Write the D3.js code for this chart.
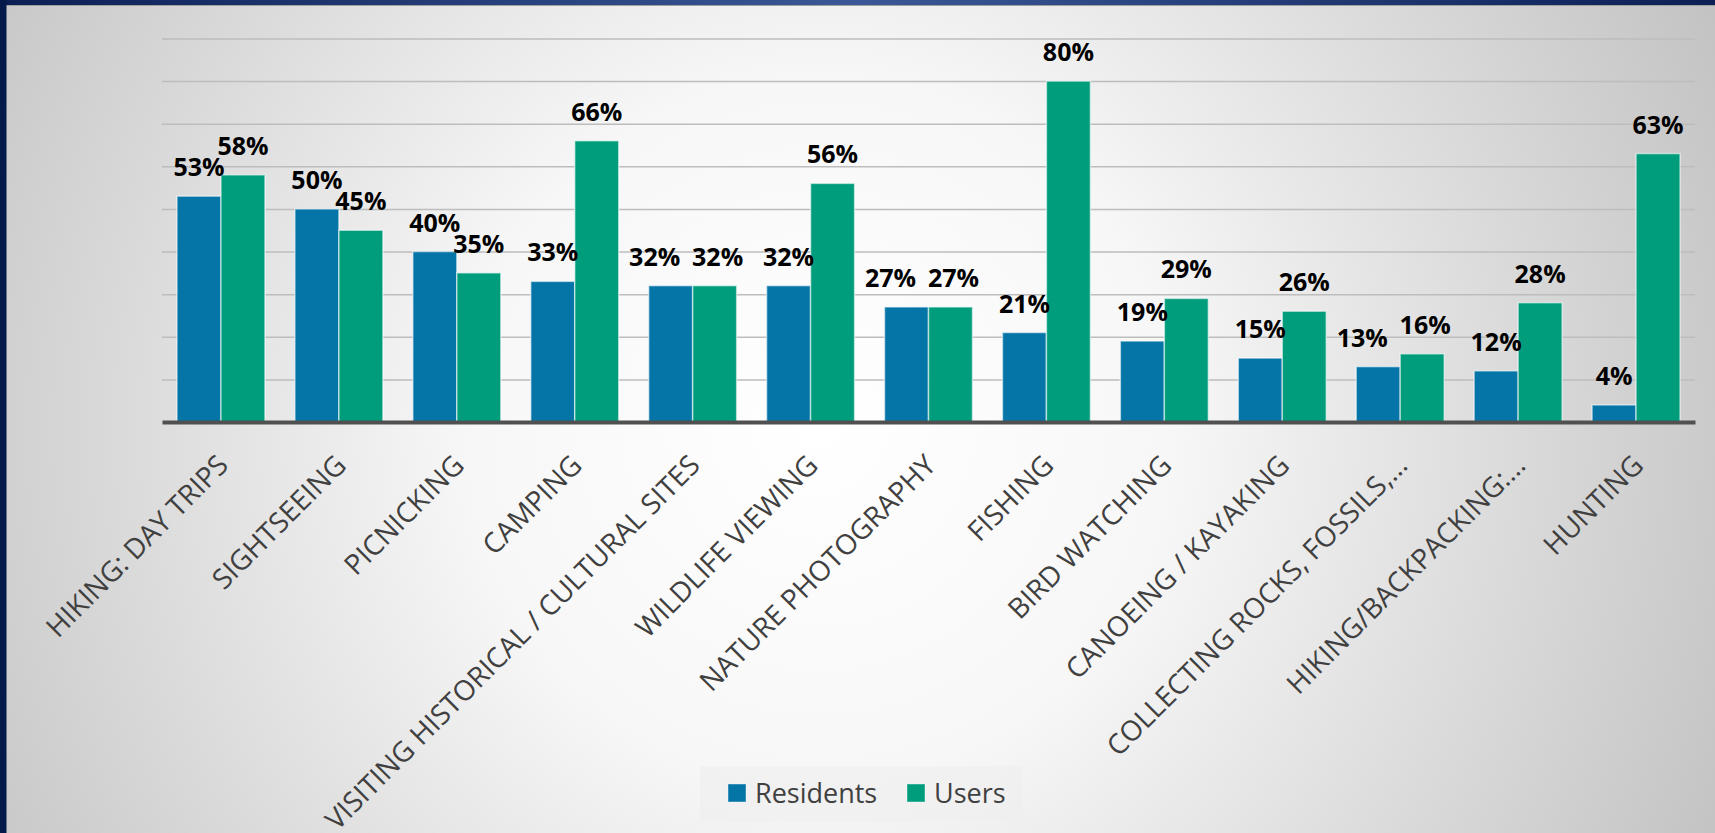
<!DOCTYPE html>
<html>
<head>
<meta charset="utf-8">
<script src="https://cdn.jsdelivr.net/npm/d3@7"></script>
<style>
  body { margin: 0; overflow: hidden; }
  text { font-family: "Open Sans", sans-serif; }
</style>
</head>
<body>
<div id="chart"></div>
<script>
// chart data
var categories = ["HIKING: DAY TRIPS", "SIGHTSEEING", "PICNICKING", "CAMPING",
  "VISITING HISTORICAL / CULTURAL SITES", "WILDLIFE VIEWING", "NATURE PHOTOGRAPHY",
  "FISHING", "BIRD WATCHING", "CANOEING / KAYAKING", "COLLECTING ROCKS, FOSSILS,…",
  "HIKING/BACKPACKING:…", "HUNTING"];
var residents = [53, 50, 40, 33, 32, 32, 27, 21, 19, 15, 13, 12, 4];
var users = [58, 45, 35, 66, 32, 56, 27, 80, 29, 26, 16, 28, 63];
var seriesNames = ["Residents", "Users"];
var colors = ["#0575a8", "#009d7c"];
var yTicks = [10, 20, 30, 40, 50, 60, 70, 80, 90];

var W = 1715, H = 833;
var margin = {top: 38.5, left: 162, right: 20, bottom: 411};
var width = W - margin.left - margin.right,
    height = H - margin.top - margin.bottom;

var svg = d3.select("#chart")
  .append("svg")
    .attr("width", W)
    .attr("height", H);

// background gradient
var defs = svg.append("defs");
var bg = defs.append("radialGradient")
    .attr("id", "bg")
    .attr("gradientUnits", "userSpaceOnUse")
    .attr("cx", 820).attr("cy", 430).attr("r", 1000);
bg.append("stop").attr("offset", 0).attr("stop-color", "#ffffff");
bg.append("stop").attr("offset", 0.35).attr("stop-color", "#f7f7f7");
bg.append("stop").attr("offset", 0.7).attr("stop-color", "#dadada");
bg.append("stop").attr("offset", 1).attr("stop-color", "#c2c2c2");

var topBar = defs.append("linearGradient").attr("id", "topbar");
topBar.append("stop").attr("offset", 0).attr("stop-color", "#0c1f55");
topBar.append("stop").attr("offset", 0.5).attr("stop-color", "#3a5897");
topBar.append("stop").attr("offset", 1).attr("stop-color", "#0c1f55");

svg.append("rect").attr("width", W).attr("height", H).attr("fill", "url(#bg)");
svg.append("rect").attr("width", W).attr("height", 5).attr("fill", "url(#topbar)");
svg.append("rect").attr("y", 5).attr("width", W).attr("height", 1).attr("fill", "#a0a0a0");
svg.append("rect").attr("width", 6.5).attr("height", H).attr("fill", "#031a4b");

var g = svg.append("g")
    .attr("transform", "translate(" + margin.left + "," + margin.top + ")");

// scales
var x0 = d3.scaleBand()
    .domain(categories)
    .range([0, width])
    .paddingInner(0.254)
    .paddingOuter(0.127);
var x1 = d3.scaleBand()
    .domain(seriesNames)
    .range([0, x0.bandwidth()]);
var y = d3.scaleLinear()
    .domain([0, 90])
    .range([height, 0]);

// gridlines
g.append("g")
    .call(d3.axisLeft(y).tickValues(yTicks).tickSize(-width).tickFormat(""))
    .call(function(a) {
      a.select(".domain").remove();
      a.selectAll("line").attr("stroke", "#bdbdbd").attr("stroke-width", 1.5);
    });

// bars
var rows = categories.map(function(c, i) {
  return {cat: c, vals: [residents[i], users[i]]};
});
var groups = g.selectAll(".grp")
  .data(rows)
  .enter()
  .append("g")
    .attr("transform", function(d) { return "translate(" + x0(d.cat) + ",0)"; });

var bars = groups.selectAll("rect")
  .data(function(d) {
    return d.vals.map(function(v, j) {
      return {s: seriesNames[j], v: v, j: j, other: d.vals[1 - j]};
    });
  })
  .enter();

bars.append("rect")
    .attr("x", function(d) { return x1(d.s); })
    .attr("y", function(d) { return y(d.v); })
    .attr("width", x1.bandwidth())
    .attr("height", function(d) { return height - y(d.v); })
    .attr("fill", function(d) { return colors[d.j]; })
    .attr("stroke", "rgba(255,255,255,0.55)")
    .attr("stroke-width", 1.5);

// labels: nudge apart when both labels sit at the same height
bars.append("text")
    .attr("x", function(d) {
      var cx = x1(d.s) + x1.bandwidth() / 2;
      if (Math.abs(y(d.v) - y(d.other)) < 15) cx += d.j === 0 ? -16 : 3;
      return cx;
    })
    .attr("y", function(d) { return y(d.v) - 20; })
    .attr("text-anchor", "middle")
    .style("font-size", "25px")
    .style("font-weight", "bold")
    .attr("fill", "#000")
    .text(function(d) { return d.v + "%"; });

// x axis
var xAxis = g.append("g")
    .attr("transform", "translate(0," + height + ")")
    .call(d3.axisBottom(x0).tickSize(0).tickPadding(0));
xAxis.select(".domain")
    .attr("stroke", "#505050")
    .attr("stroke-width", 4);
xAxis.selectAll("text")
    .attr("text-anchor", "end")
    .attr("dy", 0)
    .attr("transform", "translate(9,45) rotate(-45)")
    .style("font-size", "28px")
    .style("font-family", "'Open Sans', sans-serif")
    .attr("fill", "#404040");

// legend
var legend = svg.append("g");
legend.append("rect")
    .attr("x", 700).attr("y", 766)
    .attr("width", 322).attr("height", 55)
    .attr("fill", "#efefef").attr("opacity", 0.6);
var lx = [728, 907];
seriesNames.forEach(function(s, i) {
  legend.append("rect")
      .attr("x", lx[i]).attr("y", 784)
      .attr("width", 18).attr("height", 18)
      .attr("fill", colors[i])
      .attr("stroke", "rgba(255,255,255,0.4)");
  legend.append("text")
      .attr("x", lx[i] + 27).attr("y", 803)
      .style("font-size", "27px")
      .attr("fill", "#404040")
      .text(s);
});
</script>
</body>
</html>
